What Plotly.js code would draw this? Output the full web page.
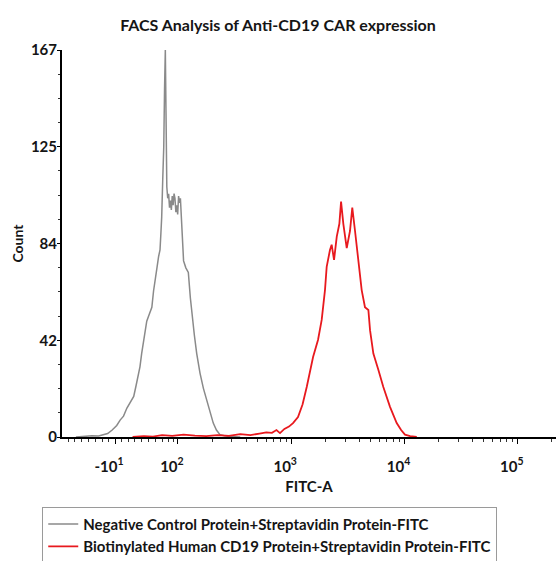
<!DOCTYPE html>
<html>
<head>
<meta charset="utf-8">
<script src="https://cdn.plot.ly/plotly-3.0.1.min.js"></script>
<style>html,body{margin:0;padding:0;background:#fff;}#chart{width:556px;height:561px;}</style>
</head>
<body>
<div id="chart"></div>
<script>
// x positions are in display (biexponential) units: 10^2 at 2, 10^3 at 3, ...
const grayX = [1.10, 1.18, 1.24, 1.30, 1.34, 1.38, 1.42, 1.46, 1.49, 1.52, 1.55, 1.58, 1.61, 1.63, 1.65, 1.665, 1.68, 1.695, 1.71, 1.725, 1.74, 1.755, 1.77, 1.785, 1.80, 1.815, 1.83, 1.842, 1.85, 1.857, 1.866, 1.875, 1.882, 1.889, 1.895, 1.902, 1.91, 1.918, 1.926, 1.934, 1.942, 1.95, 1.958, 1.966, 1.974, 1.982, 1.99, 1.998, 2.006, 2.014, 2.022, 2.03, 2.04, 2.05, 2.07, 2.092, 2.11, 2.122, 2.145, 2.166, 2.195, 2.225, 2.254, 2.285, 2.312, 2.34, 2.371, 2.41, 2.46, 2.55];
const grayY = [0, 0.3, 0.5, 0.4, 1.0, 1.5, 3.0, 5.0, 7.3, 9.0, 12.5, 15.0, 17.5, 22, 27, 30.3, 36, 41, 46, 50, 52, 54, 56, 63, 69, 73, 78, 80.7, 88, 95, 111, 125, 150, 167, 140, 108, 103, 105, 99, 102, 98, 104, 100, 105, 103, 97, 100, 96, 104, 101, 103, 95, 86, 76, 73, 71, 60, 53.5, 44, 36, 27.6, 21, 16, 10, 6, 3, 1, 0.5, 0.2, 0];

const redX = [1.60, 1.70, 1.78, 1.86, 1.95, 2.05, 2.15, 2.25, 2.35, 2.45, 2.55, 2.64, 2.72, 2.78, 2.83, 2.87, 2.901, 2.94, 2.98, 3.016, 3.06, 3.10, 3.137, 3.165, 3.193, 3.237, 3.269, 3.298, 3.313, 3.342, 3.357, 3.378, 3.402, 3.425, 3.44, 3.46, 3.49, 3.519, 3.539, 3.563, 3.592, 3.607, 3.622, 3.651, 3.681, 3.696, 3.725, 3.769, 3.813, 3.872, 3.931, 3.97, 4.004, 4.05, 4.108];
const redY = [0, 0.4, 0.2, 0.8, 0.5, 1.0, 0.6, 0.4, 0.8, 0.5, 1.2, 0.8, 1.5, 2.0, 1.8, 3.0, 1.7, 3.5, 4.5, 6, 8.6, 14, 21.6, 28, 34.5, 42, 50.5, 63.4, 73.4, 80.7, 83, 76.4, 86.5, 92, 101.6, 92, 81.5, 89, 99, 89, 76.4, 67.8, 63.4, 56, 54.8, 46, 36, 29, 21.6, 13, 6, 3, 1, 0.4, 0];

const seriesNames = ['Negative Control Protein+Streptavidin Protein-FITC', 'Biotinylated Human CD19 Protein+Streptavidin Protein-FITC'];

const xTickVals = [1.445, 2, 3, 4, 5];
const xTickText = ['-10<sup>1</sup>', '10<sup>2</sup>', '10<sup>3</sup>', '10<sup>4</sup>', '10<sup>5</sup>'];
const yTickVals = [0, 41.75, 83.5, 125.25, 167];
const yTickText = ['0', '42', '84', '125', '167'];

// minor tick positions
const xMinor = [1.03, 1.09, 1.15, 1.21, 1.27, 1.33, 1.39, 1.50, 1.56, 1.62, 1.68, 1.74, 1.80, 1.86, 1.92, 1.96];
for (let d = 2; d <= 5; d++) {
  for (let k = 2; k <= 9; k++) {
    const v = d + Math.log10(k);
    if (v < 5.33) xMinor.push(v);
  }
}
const yMinor = [];
for (let i = 0; i <= 16; i++) { if (i % 4 !== 0) yMinor.push(i * 167 / 16); }

const FONT = 'Lato, "Open Sans", sans-serif';
const TXT = '#151515';

const traces = [
  {x: grayX, y: grayY, name: seriesNames[0], type: 'scatter', mode: 'lines',
   line: {color: '#8a8a8a', width: 1.5}},
  {x: redX, y: redY, name: seriesNames[1], type: 'scatter', mode: 'lines',
   line: {color: '#e8191e', width: 1.8}}
];

const layout = {
  width: 556, height: 561,
  margin: {l: 62, r: 0, t: 50, b: 124, autoexpand: false},
  paper_bgcolor: '#fff', plot_bgcolor: '#fff',
  font: {family: FONT, size: 15, color: TXT, weight: 700},
  title: {text: 'FACS Analysis of Anti-CD19 CAR expression', x: 0.5, xref: 'container', xanchor: 'center',
          y: 17, yref: 'container', yanchor: 'middle',
          font: {family: FONT, size: 16, color: TXT, weight: 700}},
  showlegend: true,
  legend: {x: -0.04, y: -0.18, xanchor: 'left', yanchor: 'top', orientation: 'v',
           bordercolor: '#9a9a9a', borderwidth: 1, bgcolor: '#fff',
           font: {family: FONT, size: 15, color: TXT, weight: 700}, tracegroupgap: 0},
  xaxis: {
    range: [0.977, 5.337], showgrid: false, zeroline: false,
    showline: true, linecolor: '#000', linewidth: 1.5,
    tickmode: 'array', tickvals: xTickVals, ticktext: xTickText,
    ticks: 'outside', ticklen: 5, tickwidth: 1, tickcolor: '#000',
    ticklabelshift: -6, ticklabelstandoff: 10,
    minor: {tickvals: xMinor, ticks: 'outside', ticklen: 3, tickcolor: '#333', tickwidth: 1},
    tickfont: {family: FONT, size: 15, color: TXT, weight: 700},
    title: {text: 'FITC-A', standoff: 8, font: {family: FONT, size: 15, color: TXT, weight: 700}}
  },
  yaxis: {
    range: [0, 167], showgrid: false, zeroline: false,
    showline: true, linecolor: '#000', linewidth: 2,
    tickmode: 'array', tickvals: yTickVals, ticktext: yTickText,
    ticks: 'outside', ticklen: 3, tickwidth: 1, tickcolor: '#000',
    ticklabelstandoff: -3,
    minor: {tickvals: yMinor, ticks: 'outside', ticklen: 2, tickcolor: '#333', tickwidth: 1},
    tickfont: {family: FONT, size: 15, color: TXT, weight: 700},
    title: {text: 'Count', standoff: 4, font: {family: FONT, size: 14, color: TXT, weight: 700}}
  }
};

Plotly.newPlot('chart', traces, layout, {displayModeBar: false, staticPlot: true});
</script>
</body>
</html>
